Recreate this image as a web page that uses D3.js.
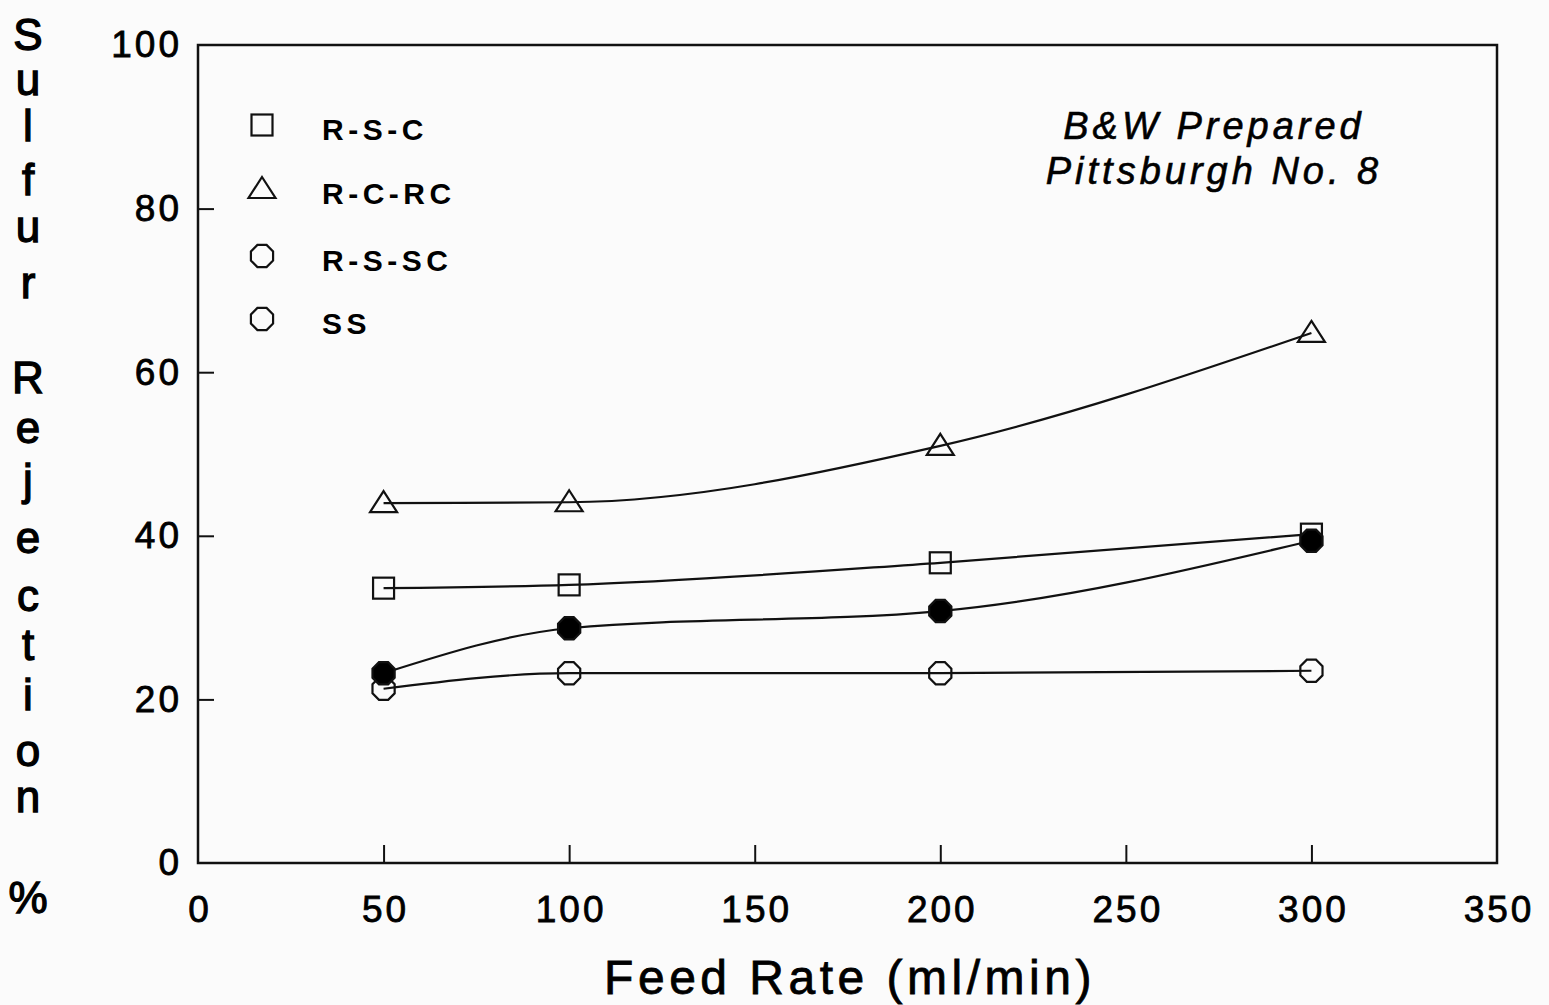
<!DOCTYPE html>
<html><head><meta charset="utf-8">
<script src="https://cdn.jsdelivr.net/npm/d3@7"></script>
<style>
html,body{margin:0;padding:0;background:#fbfbfb;}
svg{display:block;}
text{font-family:"Liberation Sans",Arial,Helvetica,sans-serif;fill:#000;}
</style></head>
<body>
<svg id="chart" width="1549" height="1005"></svg>
<script>
const feedRates = [50, 100, 200, 300];
const rsc   = [33.6, 34.0, 36.7, 40.2];   // squares
const rcrc  = [44.0, 44.1, 51.0, 64.8];   // triangles
const rssc  = [23.2, 28.7, 30.8, 39.4];   // filled circles
const ss    = [21.3, 23.2, 23.2, 23.5];   // open circles
const xTicks = [0, 50, 100, 150, 200, 250, 300, 350];
const yTicks = [0, 20, 40, 60, 80, 100];
const legendNames = ["R-S-C", "R-C-RC", "R-S-SC", "SS"];
const legendSymbols = ["square", "triangle", "circle", "circle"];
const yTitleChars = ["S","u","l","f","u","r","","R","e","j","e","c","t","i","o","n","","%"];
const annotation = ["B&W Prepared", "Pittsburgh No. 8"];
const xTitle = "Feed Rate (ml/min)";

const svg = d3.select("#chart");
const L = 198, R = 1497, T = 45, B = 863;
const x = d3.scaleLinear().domain([0, 350]).range([L, R]);
const y = d3.scaleLinear().domain([0, 100]).range([B, T]);

// frame
svg.append("rect").attr("x", L).attr("y", T).attr("width", R - L).attr("height", B - T)
  .attr("fill", "none").attr("stroke", "#111").attr("stroke-width", 2.5);

// axes
const xAxis = svg.append("g").attr("transform", `translate(0,${B})`)
  .call(d3.axisBottom(x).tickValues(xTicks).tickSize(-18).tickPadding(33).tickFormat(d3.format("d")));
const yAxis = svg.append("g").attr("transform", `translate(${L},0)`)
  .call(d3.axisLeft(y).tickValues(yTicks).tickSize(-16).tickPadding(16).tickFormat(d3.format("d")));
[xAxis, yAxis].forEach(g => {
  g.select(".domain").remove();
  g.selectAll(".tick line").attr("stroke", "#111").attr("stroke-width", 2);
  g.selectAll(".tick text").attr("font-size", 37).attr("letter-spacing", 3)
    .attr("fill", "#000").attr("stroke", "#000").attr("stroke-width", 0.8);
});
xAxis.selectAll(".tick text").attr("dx", 1.5);
xAxis.selectAll(".tick line").filter(d => d === 0 || d === 350).remove();
yAxis.selectAll(".tick line").filter(d => d === 0 || d === 100).remove();

// lines
const line = d3.line().x(d => x(d[0])).y(d => y(d[1])).curve(d3.curveMonotoneX);
const series = [
  {vals: ss, sym: "circle", fill: "none"},
  {vals: rsc, sym: "square", fill: "none"},
  {vals: rcrc, sym: "triangle", fill: "none"},
  {vals: rssc, sym: "circle", fill: "#000"}
];
series.forEach(s => {
  const pts = feedRates.map((f, i) => [f, s.vals[i]]);
  svg.append("path").attr("d", line(pts)).attr("fill", "none").attr("stroke", "#111").attr("stroke-width", 2.2);
});

function drawMarker(g, sym, cx, cy, fill) {
  if (sym === "square") {
    g.append("rect").attr("x", cx - 10.5).attr("y", cy - 10.5).attr("width", 21).attr("height", 21)
      .attr("fill", fill).attr("stroke", "#111").attr("stroke-width", 2.2);
  } else if (sym === "triangle") {
    g.append("path").attr("d", `M${cx},${cy - 12}L${cx + 13.5},${cy + 9}L${cx - 13.5},${cy + 9}Z`)
      .attr("fill", fill).attr("stroke", "#111").attr("stroke-width", 2.2);
  } else {
    const r = 12, pts = d3.range(8).map(k => {
      const a = Math.PI / 8 + k * Math.PI / 4;
      return [cx + r * Math.cos(a), cy + r * Math.sin(a)];
    });
    g.append("path").attr("d", "M" + pts.join("L") + "Z")
      .attr("fill", fill).attr("stroke", "#111").attr("stroke-width", 2.2);
  }
}
const mg = svg.append("g");
series.forEach(s => {
  feedRates.forEach((f, i) => drawMarker(mg, s.sym, x(f), y(s.vals[i]), s.fill));
});

// legend
const lg = svg.append("g");
const legY = [125, 189, 256, 319];
legendNames.forEach((n, i) => {
  drawMarker(lg, legendSymbols[i], 262, legY[i], "none");
  lg.append("text").attr("x", 322).attr("y", legY[i] + 15).attr("font-size", 30)
    .attr("font-weight", "bold").attr("letter-spacing", 4.5).text(n);
});

// annotation
annotation.forEach((t, i) => {
  svg.append("text").attr("x", 1214).attr("y", 139 + i * 45).attr("text-anchor", "middle")
    .attr("font-size", 38).attr("font-style", "italic").attr("letter-spacing", 4)
    .attr("stroke", "#000").attr("stroke-width", 0.6).text(t);
});

// x title
svg.append("text").attr("x", 850).attr("y", 994).attr("text-anchor", "middle")
  .attr("font-size", 48).attr("letter-spacing", 4.5)
  .attr("stroke", "#000").attr("stroke-width", 0.8).text(xTitle);

// y title (stacked letters in one text element)
const yPos = [50, 95, 141, 195, 242, 298, null, 393, 443, 495, 553, 611, 660, 710, 766, 812, null, 913];
const yt = svg.append("text").attr("text-anchor", "middle").attr("font-size", 44)
  .attr("stroke", "#000").attr("stroke-width", 1.3);
yTitleChars.forEach((c, i) => {
  if (!c) return;
  yt.append("tspan").attr("x", 28).attr("y", yPos[i]).text(c);
});
</script>
</body></html>
